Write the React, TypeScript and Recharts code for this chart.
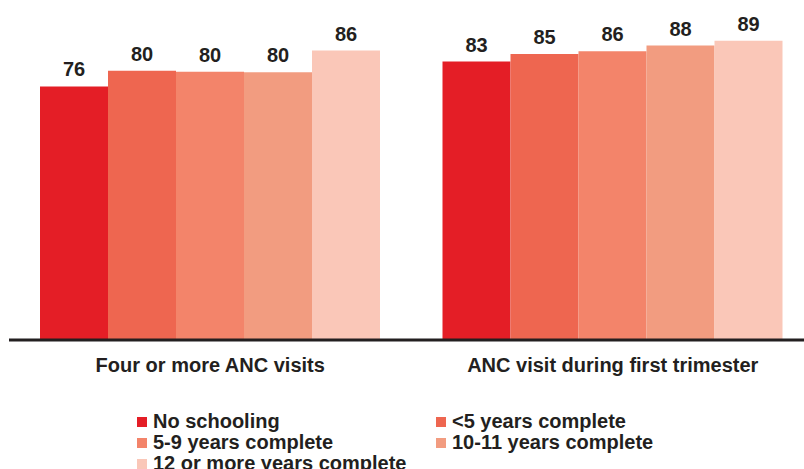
import React from 'react';
import { BarChart, Bar, XAxis, YAxis, LabelList } from 'recharts';

const categories = ['Four or more ANC visits', 'ANC visit during first trimester'];

const seriesNames = [
  'No schooling',
  '<5 years complete',
  '5-9 years complete',
  '10-11 years complete',
  '12 or more years complete',
];

const noSchooling = [75.7, 83.1];
const under5 = [80.4, 85.4];
const years5to9 = [80.1, 86.2];
const years10to11 = [79.9, 87.9];
const years12plus = [86.4, 89.3];

const seriesValues = [noSchooling, under5, years5to9, years10to11, years12plus];

const colors = ['#E41E26', '#EE6650', '#F3846A', '#F29C80', '#FAC7B8'];

const data = categories.map((name, i) => {
  const row: Record<string, string | number> = { name };
  seriesNames.forEach((s, j) => {
    row[s] = seriesValues[j][i];
  });
  return row;
});

const FONT = '"Liberation Sans", Arial, Helvetica, sans-serif';
const TEXT = '#231F20';

const CategoryTick = (props: any) => {
  const { x, y, payload } = props;
  return (
    <text
      x={x}
      y={y + 32}
      textAnchor="middle"
      fill={TEXT}
      fontSize={20}
      fontWeight={700}
      fontFamily={FONT}
    >
      {payload.value}
    </text>
  );
};

const LegendBlock = () => (
  <div
    style={{
      position: 'absolute',
      left: 137,
      top: 411,
      width: 620,
      display: 'grid',
      gridTemplateColumns: '299px 299px',
      fontFamily: FONT,
      fontSize: 20,
      fontWeight: 700,
      color: TEXT,
      lineHeight: '21px',
    }}
  >
    {seriesNames.map((s, i) => (
      <div key={s} style={{ display: 'flex', alignItems: 'center', height: 21, whiteSpace: 'nowrap' }}>
        <span
          style={{
            display: 'inline-block',
            width: 10,
            height: 10,
            background: colors[i],
            marginRight: 6,
          }}
        />
        <span>{s}</span>
      </div>
    ))}
  </div>
);

export default function App() {
  return (
    <div
      style={{
        position: 'absolute',
        left: 0,
        top: 0,
        width: 804,
        height: 469,
        overflow: 'hidden',
        background: '#fff',
      }}
    >
      <BarChart
        width={814}
        height={469}
        data={data}
        margin={{ top: 5, right: 0, left: 9, bottom: 99 }}
        barCategoryGap={31}
        barGap={0}
      >
        <XAxis
          dataKey="name"
          height={30}
          tickLine={false}
          tickSize={0}
          tickMargin={0}
          axisLine={{ stroke: '#231F20', strokeWidth: 3 }}
          tick={<CategoryTick />}
          interval={0}
        />
        <YAxis hide domain={[0, 100]} />
        {seriesNames.map((s, i) => (
          <Bar key={s} dataKey={s} fill={colors[i]} isAnimationActive={false}>
            <LabelList
              dataKey={s}
              position="top"
              offset={10}
              formatter={(v: any) => Math.round(Number(v))}
              fill={TEXT}
              fontSize={20}
              fontWeight={700}
              fontFamily={FONT}
            />
          </Bar>
        ))}
      </BarChart>
      <LegendBlock />
    </div>
  );
}
